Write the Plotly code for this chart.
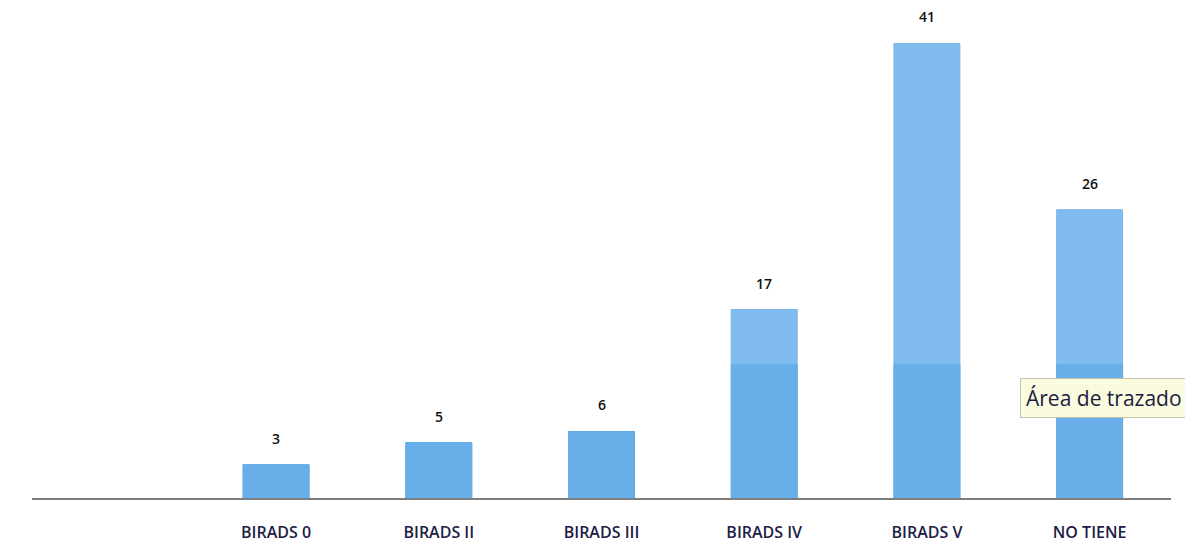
import plotly.graph_objects as go

categories = ["BIRADS 0", "BIRADS II", "BIRADS III", "BIRADS IV", "BIRADS V", "NO TIENE"]
values = [3, 5, 6, 17, 41, 26]

xpos = list(range(1, len(categories) + 1))
shade_level = 12  # lower darker band of the bar gradient
lower = [min(v, shade_level) for v in values]

fig = go.Figure()
fig.add_trace(go.Bar(
    x=xpos, y=values, width=0.405,
    marker=dict(color="#80bcee", line=dict(color="#74b4ea", width=1)),
    hoverinfo="skip",
))
fig.add_trace(go.Bar(
    x=xpos, y=lower, width=0.405,
    marker=dict(color="#68afe9", line=dict(color="#62ace8", width=1)),
    hoverinfo="skip",
))
for xp, v in zip(xpos, values):
    fig.add_annotation(x=xp, y=v, text=str(v), showarrow=False, yanchor="bottom",
                       yshift=15, font=dict(family="Open Sans", size=14, color="#111111", weight=600))

fig.add_annotation(xref="paper", yref="paper", x=0.8675, y=0.205, xanchor="left", yanchor="middle",
                   text="Área de trazado", showarrow=False, bgcolor="#fbfbdf",
                   bordercolor="#c4c4aa", borderwidth=1, borderpad=5,
                   font=dict(family="Open Sans", size=21, color="#1c1c40"))

fig.update_layout(
    width=1193, height=554,
    margin=dict(l=24, r=30, t=0, b=64),
    plot_bgcolor="white", paper_bgcolor="white",
    showlegend=False, barmode="overlay",
    xaxis=dict(range=[-0.5, 6.5], tickvals=xpos, ticktext=categories, ticks="",
               showgrid=False, zeroline=False, showline=True, linecolor="#7e7e7e", linewidth=1.5,
               tickfont=dict(family="Open Sans", size=16, color="#1c1c44", weight=600),
               ticklabelstandoff=19),
    yaxis=dict(range=[0, 44.2], visible=False, showgrid=False, zeroline=False),
)
fig.write_html("out.html")
